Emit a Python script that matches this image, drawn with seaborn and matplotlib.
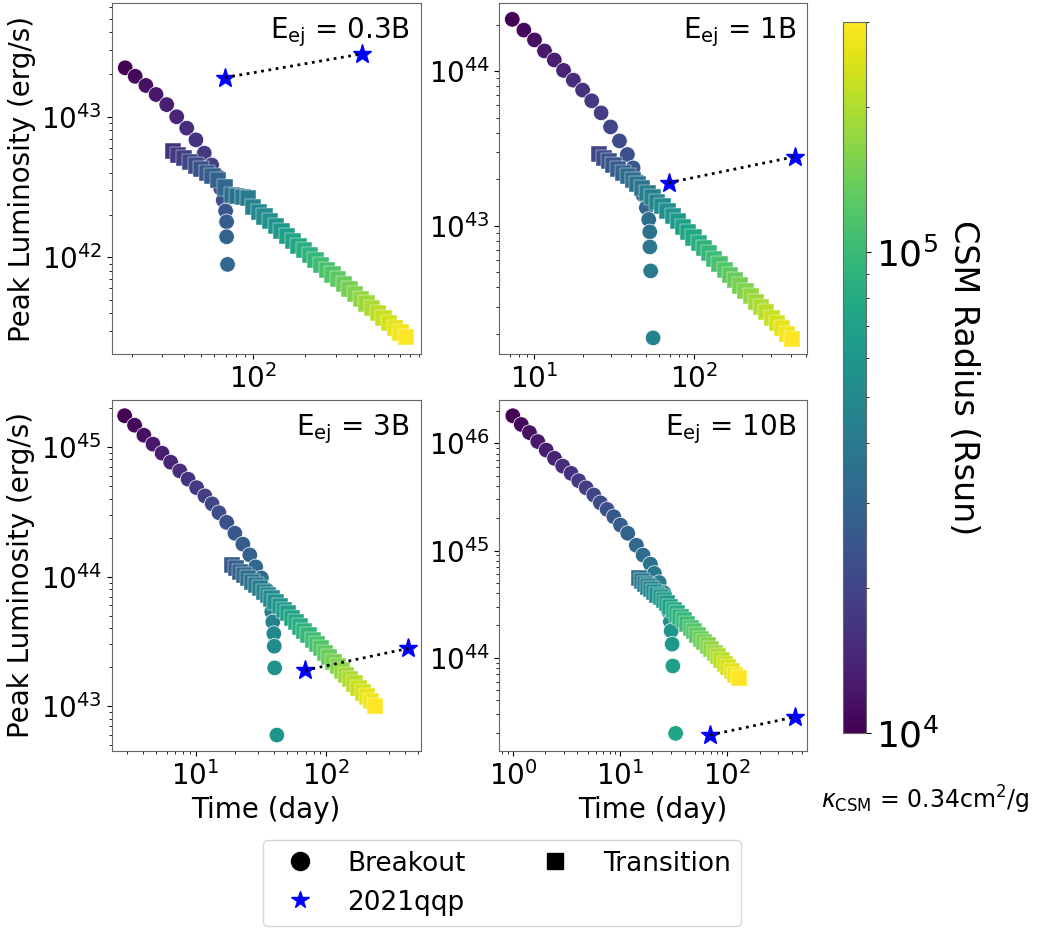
import matplotlib
matplotlib.use("Agg")
import matplotlib.pyplot as plt
import matplotlib.ticker as mticker
from matplotlib.colors import LogNorm
from matplotlib.cm import ScalarMappable
from matplotlib.lines import Line2D
import seaborn as sns

# CSM radius grid (Rsun), shared by all panels
radius_grid = [1.00e4, 1.07e4, 1.15e4, 1.24e4, 1.33e4, 1.43e4, 1.53e4, 1.64e4, 1.76e4,
               1.89e4, 2.03e4, 2.18e4, 2.34e4, 2.51e4, 2.70e4, 2.90e4, 3.11e4, 3.34e4,
               3.58e4, 3.84e4, 4.13e4, 4.43e4, 4.75e4, 5.10e4, 5.48e4, 5.88e4, 6.31e4,
               6.77e4, 7.27e4, 7.81e4, 8.38e4, 8.99e4, 9.65e4, 1.036e5, 1.112e5, 1.194e5,
               1.282e5, 1.376e5, 1.477e5, 1.585e5, 1.702e5, 1.826e5, 1.961e5, 2.104e5,
               2.259e5, 2.425e5, 2.603e5, 2.794e5, 3.00e5]

energies = ["0.3", "1", "3", "10"]

# E_ej = 0.3B
t_break_03 = [18.4, 21.0, 24.2, 27.7, 31.9, 36.4, 41.6, 47.0, 52.5, 57.9, 63.2, 65.2, 67.5,
              69.7, 70.6, 70.6, 71.5]
L_break_03 = [2.23e43, 1.94e43, 1.67e43, 1.44e43, 1.22e43, 1.00e43, 8.30e42, 6.85e42, 5.51e42,
              4.54e42, 3.75e42, 3.10e42, 2.55e42, 2.14e42, 1.79e42, 1.40e42, 8.9e41]
t_trans_03 = [34.5, 37.2, 40.2, 43.4, 46.8, 50.4, 54.3, 58.6, 63.2, 69.2, 75.7, 81.3, 87.3,
              93.5, 100.5, 108.3, 116.7, 125.9, 135.7, 146.3, 157.7, 170.0, 183.3, 197.6,
              213.0, 229.6, 247.5, 266.8, 287.6, 310.0, 334.2, 360.3, 388.4, 418.7, 451.3,
              486.5, 524.5, 565.4, 609.5, 657.0, 708.3, 763.6]
L_trans_03 = [5.71e42, 5.38e42, 5.07e42, 4.78e42, 4.50e42, 4.25e42, 4.00e42, 3.77e42, 3.55e42,
              3.14e42, 2.77e42, 2.73e42, 2.68e42, 2.64e42, 2.29e42, 2.11e42, 1.95e42, 1.80e42,
              1.66e42, 1.54e42, 1.42e42, 1.31e42, 1.21e42, 1.12e42, 1.04e42, 9.57e41, 8.84e41,
              8.16e41, 7.54e41, 6.97e41, 6.44e41, 5.94e41, 5.49e41, 5.07e41, 4.69e41, 4.33e41,
              4.00e41, 3.70e41, 3.42e41, 3.16e41, 2.92e41, 2.70e41]

# E_ej = 1B
t_break_1 = [7.26, 8.58, 10.0, 11.55, 13.3, 15.2, 17.5, 20.0, 22.8, 26.1, 29.9, 34.0, 38.1,
             41.4, 44.9, 47.8, 50.1, 51.8, 52.6, 52.7, 53.3, 55.2]
L_break_1 = [2.16e44, 1.84e44, 1.59e44, 1.35e44, 1.18e44, 1.01e44, 8.74e43, 7.54e43, 6.43e43,
             5.37e43, 4.36e43, 3.54e43, 2.89e43, 2.37e43, 1.94e43, 1.58e43, 1.31e43, 1.10e43,
             9.15e42, 7.31e42, 5.12e42, 1.89e42]
t_trans_1 = [25.4, 27.2, 29.1, 31.2, 33.4, 35.8, 38.4, 41.1, 44.1, 47.3, 50.9, 54.7, 58.7,
             63.2, 67.9, 73.2, 78.9, 85.1, 91.6, 98.8, 106.4, 114.8, 123.6, 133.4, 143.6,
             154.9, 166.7, 179.9, 193.6, 208.9, 224.9, 242.7, 261.8, 281.8, 304.1, 327.3,
             353.2, 380.2, 410.2]
L_trans_1 = [2.92e43, 2.76e43, 2.61e43, 2.47e43, 2.33e43, 2.21e43, 2.09e43, 1.97e43, 1.87e43,
             1.75e43, 1.63e43, 1.53e43, 1.43e43, 1.34e43, 1.25e43, 1.16e43, 1.07e43, 9.86e42,
             9.12e42, 8.41e42, 7.78e42, 7.18e42, 6.64e42, 6.12e42, 5.66e42, 5.22e42, 4.83e42,
             4.46e42, 4.12e42, 3.80e42, 3.52e42, 3.24e42, 3.00e42, 2.77e42, 2.55e42, 2.36e42,
             2.18e42, 2.01e42, 1.86e42]

# E_ej = 3B
t_break_3 = [2.87, 3.42, 4.03, 4.73, 5.55, 6.46, 7.58, 8.78, 10.2, 11.8, 13.4, 15.1, 17.3,
             20.0, 23.0, 26.0, 28.8, 31.9, 35.1, 36.7, 38.3, 39.0, 39.7, 40.0, 40.3, 41.9]
L_break_3 = [1.74e45, 1.47e45, 1.23e45, 1.05e45, 8.94e44, 7.62e44, 6.53e44, 5.64e44, 4.85e44,
             4.19e44, 3.64e44, 3.11e44, 2.62e44, 2.16e44, 1.78e44, 1.47e44, 1.19e44, 9.77e43,
             7.89e43, 6.56e43, 5.37e43, 4.48e43, 3.64e43, 2.91e43, 1.98e43, 6.01e42]
t_trans_3 = [19.1, 20.5, 22.0, 23.5, 25.2, 27.0, 28.9, 31.0, 33.2, 35.6, 38.1, 40.9, 44.0,
             47.2, 50.6, 54.5, 58.6, 63.1, 67.9, 73.1, 78.7, 84.5, 91.0, 98.0, 105.4, 113.5,
             122.2, 131.5, 141.6, 152.4, 164.1, 176.2, 189.7, 204.2, 219.8, 236.6]
L_trans_3 = [1.23e44, 1.16e44, 1.09e44, 1.03e44, 9.71e43, 9.16e43, 8.63e43, 8.13e43, 7.66e43,
             7.22e43, 6.78e43, 6.34e43, 5.94e43, 5.57e43, 5.22e43, 4.83e43, 4.47e43, 4.13e43,
             3.82e43, 3.53e43, 3.27e43, 3.02e43, 2.80e43, 2.59e43, 2.39e43, 2.21e43, 2.05e43,
             1.89e43, 1.75e43, 1.62e43, 1.50e43, 1.39e43, 1.28e43, 1.19e43, 1.10e43, 1.01e43]

# E_ej = 10B
t_break_10 = [1.00, 1.20, 1.43, 1.71, 2.05, 2.45, 2.92, 3.50, 4.12, 4.83, 5.69, 6.56, 7.58,
              8.74, 10.1, 11.8, 14.2, 16.4, 19.2, 20.9, 23.2, 25.6, 27.4, 28.4, 29.5, 30.0,
              30.6, 31.1, 33.0]
L_break_10 = [1.81e46, 1.50e46, 1.26e46, 1.04e46, 8.66e45, 7.25e45, 6.14e45, 5.25e45, 4.48e45,
              3.85e45, 3.30e45, 2.79e45, 2.42e45, 2.07e45, 1.73e45, 1.45e45, 1.12e45, 9.08e44,
              7.48e44, 6.12e44, 5.03e44, 4.05e44, 3.31e44, 2.70e44, 2.17e44, 1.78e44, 1.34e44,
              8.38e43, 1.97e43]
t_trans_10 = [14.9, 16.0, 17.1, 18.2, 19.5, 20.9, 22.3, 23.9, 25.5, 27.4, 29.4, 31.7, 34.0,
              36.6, 39.4, 42.4, 45.6, 49.1, 52.8, 56.8, 61.1, 65.8, 70.8, 76.2, 82.0, 88.3,
              95.1, 102.3, 110.2, 118.6, 127.6]
L_trans_10 = [5.51e44, 5.20e44, 4.90e44, 4.62e44, 4.36e44, 4.11e44, 3.88e44, 3.66e44, 3.46e44,
              3.22e44, 2.99e44, 2.79e44, 2.59e44, 2.42e44, 2.23e44, 2.07e44, 1.91e44, 1.77e44,
              1.64e44, 1.51e44, 1.40e44, 1.30e44, 1.20e44, 1.11e44, 1.03e44, 9.49e43, 8.79e43,
              8.13e43, 7.52e43, 6.95e43, 6.43e43]

# SN 2021qqp
t_qqp = [69, 425]
L_qqp = [1.9e43, 2.8e43]

panels = [
    (t_break_03, L_break_03, t_trans_03, L_trans_03, (15.4, 925), (2.04e41, 6.41e43)),
    (t_break_1, L_break_1, t_trans_1, L_trans_1, (6.04, 506), (1.48e42, 2.74e44)),
    (t_break_3, L_break_3, t_trans_3, L_trans_3, (2.29, 526), (4.53e42, 2.30e45)),
    (t_break_10, L_break_10, t_trans_10, L_trans_10, (0.751, 554), (1.35e43, 2.54e46)),
]

sns.set_style("ticks")
plt.rcParams["font.family"] = ["DejaVu Sans"]
plt.rcParams.update({"text.color": "black", "axes.labelcolor": "black",
                     "xtick.color": "black", "ytick.color": "black",
                     "axes.edgecolor": "0.4"})

fig = plt.figure(figsize=(10.38, 9.3), dpi=100)
positions = [[0.1077, 0.619, 0.2975, 0.3774], [0.4812, 0.619, 0.2962, 0.3774],
             [0.1077, 0.1925, 0.2975, 0.3774], [0.4812, 0.1925, 0.2962, 0.3774]]

norm = LogNorm(vmin=1e4, vmax=3e5)

for i, (tb, Lb, ts, Ls, xlim, ylim) in enumerate(panels):
    ax = fig.add_axes(positions[i])
    sns.scatterplot(x=tb, y=Lb, hue=radius_grid[:len(tb)], hue_norm=norm, palette="viridis",
                    marker="o", s=125, linewidth=0.5, legend=False, ax=ax)
    sns.scatterplot(x=ts, y=Ls, hue=radius_grid[-len(ts):], hue_norm=norm, palette="viridis",
                    marker="s", s=135, linewidth=0.3, legend=False, ax=ax)
    ax.plot(t_qqp, L_qqp, linestyle="none", marker="*", color="blue", markersize=14)
    ax.plot(t_qqp, L_qqp, "k:", lw=2)
    ax.set_xscale("log")
    ax.set_yscale("log")
    ax.set_xlim(xlim)
    ax.set_ylim(ylim)
    ax.tick_params(labelsize=20)
    ax.text(0.965, 0.965, r"E$_{\rm ej}$ = " + energies[i] + "B", transform=ax.transAxes,
            ha="right", va="top", fontsize=20)
    if i % 2 == 0:
        ax.set_ylabel("Peak Luminosity (erg/s)", fontsize=20)
    else:
        ax.set_ylabel("")
    if i >= 2:
        ax.set_xlabel("Time (day)", fontsize=20)
    else:
        ax.set_xlabel("")

cax = fig.add_axes([0.812, 0.2118, 0.0222, 0.7645])
cb = fig.colorbar(ScalarMappable(norm=norm, cmap="viridis"), cax=cax)
cb.ax.yaxis.set_minor_formatter(mticker.NullFormatter())
cb.ax.tick_params(labelsize=26)
cb.outline.set_edgecolor("0.4")
cb.set_label("CSM Radius (Rsun)", fontsize=24, rotation=270, labelpad=30)

fig.text(0.992, 0.14, r"$\kappa_{\rm CSM}$ = 0.34cm$^2$/g", fontsize=17,
         ha="right", va="center")

handles = [
    Line2D([], [], linestyle="none", marker="o", color="black", markersize=13),
    Line2D([], [], linestyle="none", marker="*", color="blue", markersize=13),
    Line2D([], [], linestyle="none", marker="s", color="black", markersize=12),
]
fig.legend(handles, ["Breakout", "2021qqp", "Transition"], loc="upper center",
           bbox_to_anchor=(0.4836, 0.0968), ncol=2, fontsize=19, borderaxespad=0,
           columnspacing=2.4)

fig.savefig("out.png", dpi=100)
